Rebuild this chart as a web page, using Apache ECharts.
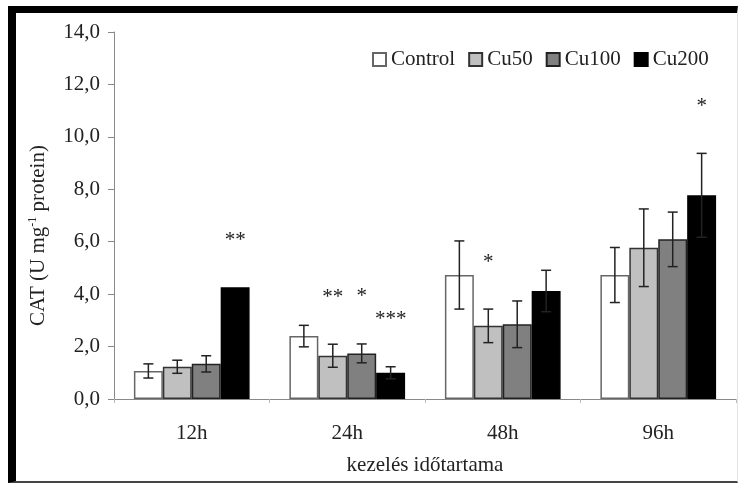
<!DOCTYPE html>
<html>
<head>
<meta charset="utf-8">
<script src="https://cdn.jsdelivr.net/npm/echarts@6/dist/echarts.min.js"></script>
<style>
html,body{margin:0;padding:0;background:#fff;}
#chart{position:absolute;left:0;top:0;width:744px;height:485px;}
#frame{position:absolute;left:8px;top:6px;width:721px;height:468px;border-top:7px solid #000;border-left:8px solid #000;border-bottom:2px solid #444;border-right:1px solid #e4e4e4;pointer-events:none;box-sizing:content-box;}
</style>
</head>
<body>
<div id="chart"></div>
<div id="frame"></div>
<script>
var categories = ['12h', '24h', '48h', '96h'];
var seriesNames = ['Control', 'Cu50', 'Cu100', 'Cu200'];
var controlMean = [1.07, 2.40, 4.73, 4.73];
var controlErr  = [0.27, 0.41, 1.30, 1.05];
var cu50Mean    = [1.23, 1.65, 2.79, 5.77];
var cu50Err     = [0.25, 0.44, 0.64, 1.48];
var cu100Mean   = [1.34, 1.74, 2.85, 6.09];
var cu100Err    = [0.31, 0.36, 0.89, 1.04];
var cu200Mean   = [4.26, 1.00, 4.12, 7.77];
var cu200Err    = [0.00, 0.23, 0.79, 1.60];
var controlSig  = ['', '', '', ''];
var cu50Sig     = ['', '**', '*', ''];
var cu100Sig    = ['', '*', '', ''];
var cu200Sig    = ['**', '***', '', '*'];
var yTickLabels = ['0,0', '2,0', '4,0', '6,0', '8,0', '10,0', '12,0', '14,0'];

var means = [controlMean, cu50Mean, cu100Mean, cu200Mean];
var errs = [controlErr, cu50Err, cu100Err, cu200Err];
var sigs = [controlSig, cu50Sig, cu100Sig, cu200Sig];
var fills = ['#ffffff', '#c0c0c0', '#808080', '#000000'];
var borders = ['#666666', '#333333', '#222222', '#000000'];
var BAR_FRAC = 0.186;
var FONT = '"Liberation Serif", "Times New Roman", serif';

var series = [];
seriesNames.forEach(function (name, s) {
  series.push({
    name: name,
    type: 'bar',
    data: means[s],
    barWidth: (BAR_FRAC * 100) + '%',
    barGap: '0%',
    itemStyle: { color: fills[s], borderColor: borders[s], borderWidth: 1.5 },
    emphasis: { disabled: true },
    z: 2
  });
});
seriesNames.forEach(function (name, s) {
  var data = categories.map(function (c, i) { return [i, means[s][i], errs[s][i], sigs[s][i]]; });
  series.push({
    type: 'custom',
    name: name + '_err',
    data: data,
    z: 5,
    silent: true,
    renderItem: function (params, api) {
      var i = api.value(0), m = api.value(1), e = api.value(2);
      var sig = data[params.dataIndex][3];
      var band = api.size([1, 0])[0];
      var bw = band * BAR_FRAC;
      var c = api.coord([i, m]);
      var x = c[0] + (s - 1.5) * bw;
      var top = api.coord([i, m + e])[1];
      var bot = api.coord([i, m - e])[1];
      var children = [];
      var st = { stroke: '#222', lineWidth: 1.5 };
      if (e > 0) {
        children.push({ type: 'line', shape: { x1: x, y1: top, x2: x, y2: bot }, style: st });
        children.push({ type: 'line', shape: { x1: x - 5, y1: top, x2: x + 5, y2: top }, style: st });
        children.push({ type: 'line', shape: { x1: x - 5, y1: bot, x2: x + 5, y2: bot }, style: st });
      }
      if (sig) {
        children.push({ type: 'text', style: { text: sig, x: x, y: top - 47, align: 'center', verticalAlign: 'middle', font: '21px ' + FONT, fill: '#222' } });
      }
      return { type: 'group', children: children };
    }
  });
});

var chart = echarts.init(document.getElementById('chart'));
chart.setOption({
  animation: false,
  backgroundColor: 'transparent',
  textStyle: { fontFamily: FONT },
  legend: {
    data: seriesNames,
    left: 372,
    top: 49,
    padding: 0,
    itemWidth: 13,
    itemHeight: 13,
    itemGap: 13,
    icon: 'rect',
    textStyle: { fontFamily: FONT, fontSize: 21, color: '#222' }
  },
  grid: { left: 114, right: 8, top: 32, bottom: 86, containLabel: false },
  xAxis: {
    type: 'category',
    data: categories,
    name: 'kezelés időtartama',
    nameLocation: 'middle',
    nameGap: 56,
    nameTextStyle: { fontFamily: FONT, fontSize: 21, color: '#222' },
    axisLine: { lineStyle: { color: '#888', width: 1 } },
    axisTick: { show: true, length: 4, lineStyle: { color: '#bbb' } },
    axisLabel: { fontFamily: FONT, fontSize: 21, color: '#222', margin: 24 }
  },
  yAxis: {
    type: 'value',
    min: 0,
    max: 14,
    interval: 2,
    name: '{a|CAT (U mg}{s|-1}{a| protein)}',
    nameLocation: 'middle',
    nameRotate: 90,
    nameGap: 65,
    nameTextStyle: {
      padding: [0, 40, 0, 0],
      rich: {
        a: { fontFamily: FONT, fontSize: 21, color: '#222' },
        s: { fontFamily: FONT, fontSize: 12, color: '#222', verticalAlign: 'top', padding: [0, 0, 10, 0] }
      }
    },
    splitLine: { show: false },
    axisLine: { show: true, lineStyle: { color: '#888', width: 1 } },
    axisTick: { show: true, length: 6, lineStyle: { color: '#888' } },
    axisLabel: {
      fontFamily: FONT, fontSize: 21, color: '#222', margin: 14,
      formatter: function (v) { return yTickLabels[Math.round(v / 2)]; }
    }
  },
  series: series
});
</script>
</body>
</html>
